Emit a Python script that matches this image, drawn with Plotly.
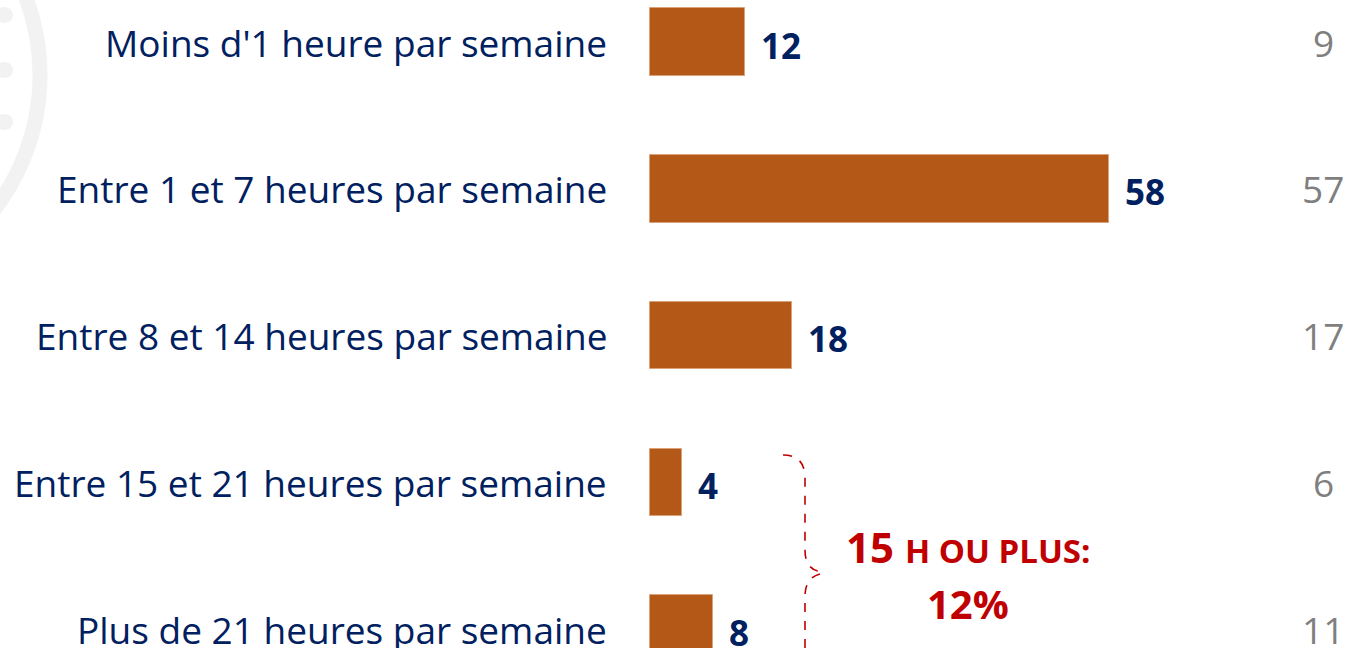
import plotly.graph_objects as go

categories = [
    "Moins d'1 heure par semaine",
    "Entre 1 et 7 heures par semaine",
    "Entre 8 et 14 heures par semaine",
    "Entre 15 et 21 heures par semaine",
    "Plus de 21 heures par semaine",
]
values = [12, 58, 18, 4, 8]
previous = [9, 57, 17, 6, 11]
group_label_main = "15"
group_label_rest = "H OU PLUS:"
group_total = "12%"

W, H = 1349, 648
X0_PX, PX_PER_UNIT = 650, 7.914
ROW0_PX, ROW_STEP = 42, 146.75

x_range = [-X0_PX / PX_PER_UNIT, (W - X0_PX) / PX_PER_UNIT]
y_range = [(H - ROW0_PX) / ROW_STEP, -ROW0_PX / ROW_STEP]

def px_to_x(px):
    return (px - X0_PX) / PX_PER_UNIT

def px_to_y(py):
    return (py - ROW0_PX) / ROW_STEP

NAVY = "#002060"
ORANGE = "#B45817"
RED = "#C00000"
GRAY = "#7F7F7F"
FONT = "Open Sans"

idx = list(range(len(categories)))

fig = go.Figure()
fig.add_trace(go.Bar(
    x=values, y=idx, orientation="h", base=0,
    marker=dict(color=ORANGE, line=dict(color="#D9A27A", width=1)),
    width=0.46, hoverinfo="skip",
))

ann = []
for i, (c, v, p) in enumerate(zip(categories, values, previous)):
    ann.append(dict(x=px_to_x(609), y=i, text=c, xanchor="right", yanchor="middle",
                    showarrow=False, font=dict(family=FONT, size=37, color=NAVY)))
    ann.append(dict(x=v, y=i, text=f"<b>{v}</b>", xanchor="left", yanchor="middle",
                    xshift=14, yshift=-3, showarrow=False,
                    font=dict(family=FONT, size=35, color=NAVY)))
    ann.append(dict(x=px_to_x(1323), y=i, text=str(p), xanchor="center", yanchor="middle",
                    showarrow=False, font=dict(family=FONT, size=37, color=GRAY)))

ann.append(dict(x=px_to_x(968), y=px_to_y(546),
                text=f"<b>{group_label_main} <span style='font-size:33px'>{group_label_rest}</span></b>",
                xanchor="center", yanchor="middle", showarrow=False,
                font=dict(family=FONT, size=42, color=RED)))
ann.append(dict(x=px_to_x(968), y=px_to_y(603), text=f"<b>{group_total}</b>",
                xanchor="center", yanchor="middle", showarrow=False,
                font=dict(family=FONT, size=40, color=RED)))

def P(px, py):
    return f"{px_to_x(px):.4f},{px_to_y(py):.4f}"

brace = (f"M {P(783,455)} Q {P(805,455)} {P(805,478)} L {P(805,550)} "
         f"Q {P(805,572)} {P(825,572)} "
         f"M {P(820,574)} Q {P(805,578)} {P(805,596)} L {P(805,700)}")

shapes = [
    dict(type="path", path=brace, xref="x", yref="y",
         line=dict(color=RED, width=1.6, dash="dash")),
    dict(type="circle", xref="paper", yref="paper", layer="below",
         x0=(-180 - 220) / W, x1=(-180 + 220) / W,
         y0=1 - (75 + 220) / H, y1=1 - (75 - 220) / H,
         line=dict(color="#F2F2F2", width=15)),
]
for dy in (15, 70, 122):
    shapes.append(dict(type="circle", xref="paper", yref="paper", layer="below",
                       x0=(-4) / W, x1=(13) / W, y0=1 - (dy + 8) / H, y1=1 - (dy - 8) / H,
                       fillcolor="#F2F2F2", line=dict(width=0)))

fig.update_layout(
    width=W, height=H, margin=dict(l=0, r=0, t=0, b=0),
    paper_bgcolor="white", plot_bgcolor="white",
    xaxis=dict(range=x_range, visible=False, fixedrange=True),
    yaxis=dict(range=y_range, visible=False, fixedrange=True),
    showlegend=False, annotations=ann, shapes=shapes,
    bargap=0,
)
fig.write_html("out.html", config={"displayModeBar": False})

with open("out.html", encoding="utf-8") as f:
    html = f.read()
html = html.replace("<head>", "<head><style>html,body{margin:0;padding:0;overflow:hidden;}</style>", 1)
with open("out.html", "w", encoding="utf-8") as f:
    f.write(html)
